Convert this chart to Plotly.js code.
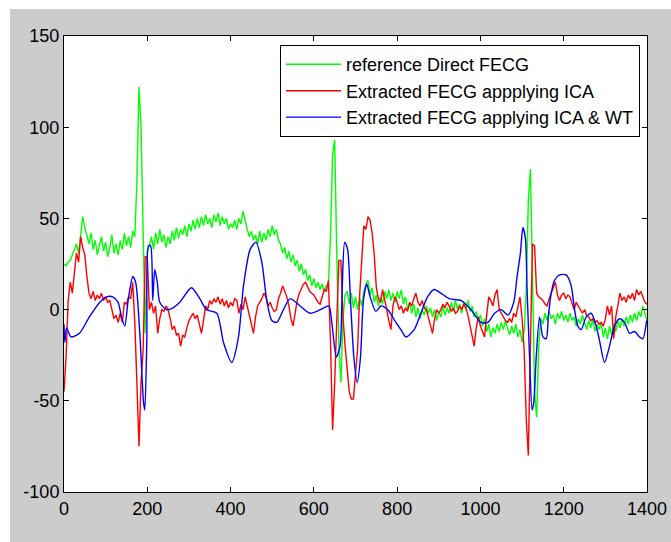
<!DOCTYPE html>
<html>
<head>
<meta charset="utf-8">
<script src="https://cdn.plot.ly/plotly-3.0.1.min.js"></script>
<style>
  html, body { margin: 0; padding: 0; background: #ffffff; }
  #chart { position: absolute; left: 10px; top: 9px; width: 661px; height: 533px; }
</style>
</head>
<body>
<div id="chart"></div>
<script>
// ---- data ----
const sampleStep = 5; // samples of green / red series every 5 units, starting at 0

const greenName = "reference Direct FECG";
const redName = "Extracted FECG appplying ICA";
const blueName = "Extracted FECG applying ICA & WT";

const greenY = [
  25,24,26,27,30,33,36,31,42,51,45,40,36,42,33,38,30,35,40,32,
  37,29,34,41,31,36,30,38,33,42,35,40,34,43,40,70,122,100,40,-13,
  32,35,40,33,42,36,44,37,41,34,40,36,43,38,45,39,44,41,46,40,
  47,43,49,44,50,45,51,46,52,47,50,45,52,48,53,46,51,47,50,44,
  47,45,49,44,50,47,54,48,44,40,43,38,41,36,43,37,42,38,44,40,
  46,41,44,38,36,31,34,28,32,26,30,24,27,21,25,19,22,16,19,13,
  17,12,15,11,14,10,13,14,40,85,93,30,-20,-40,-5,8,10,3,9,1,
  7,0,6,2,10,14,16,8,12,4,8,2,7,3,10,6,11,5,9,4,
  10,6,11,3,7,0,4,-2,3,-4,1,-5,0,-3,2,-2,1,-4,0,-6,
  -1,-4,2,-3,1,-2,4,-1,5,0,3,-2,4,0,5,-1,2,-4,-1,-6,
  -3,-9,-5,-12,-8,-15,-10,-13,-8,-12,-7,-11,-6,-10,-14,-9,-13,-8,-15,-11,
  -18,-12,10,60,77,20,-45,-59,-20,-5,-8,-2,-6,-1,-5,-3,-8,-2,-5,-1,
  -6,-3,-7,-2,-6,-4,-9,-5,-8,-3,-7,-11,-6,-10,-5,-12,-8,-11,-7,-15,
  -10,-16,-9,-14,-8,-12,-6,-10,-5,-9,-4,-8,-3,-7,-2,-6,-1,-4,2,-2,
  -6
];

const redY = [
  -45,-26,5,15,9,20,31,26,40,34,30,18,9,6,10,5,8,6,9,5,
  7,4,5,0,-5,-3,-7,-2,-7,4,3,7,6,15,-7,-40,-75,-40,-22,29,
  29,0,4,-2,2,-13,-5,0,-1,2,0,-5,-11,-9,-14,-13,-20,-14,-15,-10,
  -6,-4,-2,-5,-3,-8,-13,-6,2,0,5,3,6,4,7,3,6,2,5,1,
  4,2,6,5,-2,3,0,7,2,-2,-8,-13,-4,2,4,6,9,7,2,4,
  1,-1,0,6,9,13,10,7,2,-5,-9,-2,5,9,12,14,15,12,10,9,
  8,6,4,3,7,11,10,16,-18,-66,-40,-4,27,27,-4,-20,-31,-45,-49,-49,
  -35,-22,8,30,46,44,51,49,42,30,12,6,4,11,6,0,-6,-11,2,7,
  4,0,2,-2,1,-1,4,2,6,9,4,2,5,1,0,-4,-9,-13,-5,0,
  -2,0,3,1,4,2,-1,1,-2,-1,2,0,3,1,-3,-9,-14,-20,-10,-4,
  -9,-12,-15,-3,7,5,2,8,11,0,-2,-4,-6,-7,-5,-7,-2,-4,2,7,
  -5,-22,-60,-80,-20,36,35,9,7,6,5,3,2,6,9,12,15,8,5,8,
  9,6,8,7,3,0,4,2,0,-2,0,-3,-4,-6,-5,-7,-6,-8,-7,-9,
  -5,2,-3,2,-16,-4,2,9,5,7,4,8,6,9,5,11,8,10,7,4,
  3
];

const blueX = [
  0,2,6,17,37,61,86,102,117,130,
  138,146,154,165,172,182,191,194,199,203,
  208,213,218,224,230,246,262,278,306,326,
  342,367,383,403,419,431,447,461,475,487,
  499,511,527,543,567,591,616,636,643,654,
  663,668,674,681,688,696,704,712,719,727,
  735,749,761,777,797,809,821,841,857,873,
  889,905,925,953,977,1001,1018,1034,1050,1066,
  1080,1088,1096,1102,1108,1112,1118,1124,1128,1134,
  1142,1150,1158,1163,1170,1178,1190,1206,1218,1226,
  1234,1242,1254,1266,1278,1286,1298,1310,1322,1334,
  1346,1358,1370,1382,1390,1399
];
const blueY = [
  -8,-18,-10,-15,-13,-4,4,7,7,4,
  -4,-9,5,18,15,-13,-51,-55,-15,35,
  35,5,22,15,4,0,1,4,12,6,
  0,-2,-18,-29,-15,13,33,37,26,5,
  -6,-7,0,6,2,-2,0,2,-7,-26,
  -20,11,37,33,5,-26,-40,-26,5,14,
  7,-1,2,0,-7,-11,-15,-11,-2,7,
  11,9,6,5,0,-7,-7,-2,0,-3,
  4,18,31,45,39,11,-26,-55,-51,-26,
  -4,-15,-16,-4,9,16,19,19,13,0,
  -9,-11,-4,-2,-9,-17,-29,-20,-9,-5,
  -7,-13,-12,-15,-16,-6
];

const xTicks = [0,200,400,600,800,1000,1200,1400];
const yTicks = [-100,-50,0,50,100,150];

// ---- chart ----
const sampleX = greenY.map((_, i) => i * sampleStep);

const traces = [
  { x: sampleX, y: greenY, name: greenName, type: "scatter", mode: "lines",
    line: { color: "#00ff00", width: 1.4 } },
  { x: sampleX, y: redY, name: redName, type: "scatter", mode: "lines",
    line: { color: "#ff0000", width: 1.4 } },
  { x: blueX, y: blueY, name: blueName, type: "scatter", mode: "lines",
    line: { color: "#0000ff", width: 1.4, shape: "spline", smoothing: 0.7 } }
];

const fontFam = "Liberation Sans, Arial, sans-serif";
const axisCommon = {
  showgrid: false, zeroline: false, showline: true, linecolor: "#000000", linewidth: 1,
  mirror: "ticks", ticks: "inside", ticklen: 5, tickwidth: 1, tickcolor: "#000000",
  tickfont: { family: fontFam, size: 18, color: "#000000" }
};

const layout = {
  width: 661, height: 533,
  paper_bgcolor: "#cccccc", plot_bgcolor: "#ffffff",
  margin: { l: 54, r: 24, t: 27, b: 50, pad: 0 },
  showlegend: true,
  legend: {
    x: 0.988, y: 0.98, xanchor: "right", yanchor: "top",
    bgcolor: "#ffffff", bordercolor: "#000000", borderwidth: 1,
    itemwidth: 55,
    font: { family: fontFam, size: 18, color: "#000000" }
  },
  xaxis: Object.assign({}, axisCommon, { range: [0, 1400], tickvals: xTicks, ticktext: xTicks.map(String) }),
  yaxis: Object.assign({}, axisCommon, { range: [-100, 150], tickvals: yTicks, ticktext: yTicks.map(String) })
};

Plotly.newPlot("chart", traces, layout, { staticPlot: true, displayModeBar: false });
</script>
</body>
</html>
